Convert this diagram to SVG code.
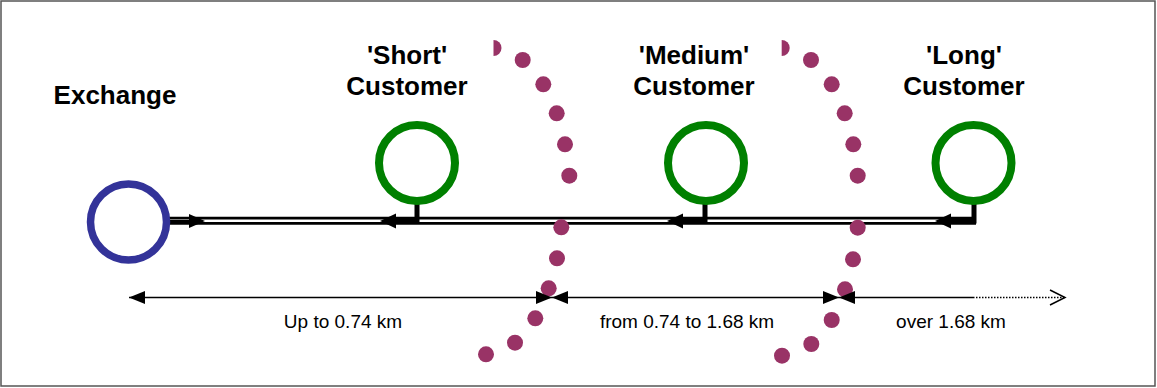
<svg xmlns="http://www.w3.org/2000/svg" width="1157" height="388" viewBox="0 0 1157 388">
<style>
  .hd{font-family:"Liberation Sans",Arial,sans-serif;font-weight:bold;font-size:26px;fill:#000;text-anchor:middle}
  .lb{font-family:"Liberation Sans",Arial,sans-serif;font-size:19px;fill:#000;text-anchor:middle}
  .cust{fill:none;stroke:#008000;stroke-width:8}
  .exch{fill:none;stroke:#333399;stroke-width:7.5}
  .dot{fill:#993366}
  .dim{stroke:#000;stroke-width:1.5;fill:none}
  .stem{stroke:#000;fill:none}
</style>
<defs>
  <marker id="ah" markerUnits="userSpaceOnUse" markerWidth="16" markerHeight="14" refX="16" refY="7" orient="auto-start-reverse">
    <path d="M0,0.5 L16,7 L0,13.5 Z" fill="#000"/>
  </marker>
  <marker id="open" markerUnits="userSpaceOnUse" markerWidth="18" markerHeight="18" refX="16" refY="9" orient="auto">
    <path d="M1,1.5 L16,9 L1,16.5" fill="none" stroke="#000" stroke-width="1.5"/>
  </marker>
</defs>
<rect x="1" y="1" width="1154" height="385" fill="#fff" stroke="#555" stroke-width="1.5"/>

<g id="connectors">
  <line x1="166" y1="220.8" x2="976" y2="220.8" stroke="#000" stroke-width="8"/>
  <line x1="166" y1="220.8" x2="974" y2="220.8" stroke="#fff" stroke-width="2.5"/>
  <line x1="168" y1="221" x2="192" y2="221" stroke="#000" stroke-width="2"/>
  <polygon points="205,221 189,214 189,228" fill="#000"/>
  <polyline class="stem" points="417,202 417,221 392,221" stroke-width="5"/>
  <line x1="417" y1="221" x2="392" y2="221" stroke="#000" stroke-width="2.5"/>
  <polygon points="380,221 396,213.5 396,228.5" fill="#000"/>
  <polyline class="stem" points="705,202 705,221 680,221" stroke-width="5"/>
  <polygon points="667,221 683,213.5 683,228.5" fill="#000"/>
  <polyline class="stem" points="974,202 974,221 948,221" stroke-width="5"/>
  <polygon points="935,221 951,213.5 951,228.5" fill="#000"/>
</g>

<g id="exchange">
  <circle class="exch" cx="128.5" cy="222" r="38"/>
  <text class="hd" x="115" y="104">Exchange</text>
</g>
<g id="short-customer">
  <circle class="cust" cx="417" cy="163" r="38"/>
  <text class="hd" x="407" y="64">'Short'</text>
  <text class="hd" x="407" y="95">Customer</text>
</g>
<g id="medium-customer">
  <circle class="cust" cx="706" cy="163" r="38"/>
  <text class="hd" x="694" y="64">'Medium'</text>
  <text class="hd" x="694" y="95">Customer</text>
</g>
<g id="long-customer">
  <circle class="cust" cx="973.5" cy="163" r="38"/>
  <text class="hd" x="964" y="64">'Long'</text>
  <text class="hd" x="964" y="95">Customer</text>
</g>

<g id="boundary-1">
  <path class="dot" d="M493.5,40 A8,8 0 0 1 493.5,56 Z"/>
  <circle class="dot" cx="522.7" cy="60" r="8"/>
  <circle class="dot" cx="543.3" cy="84.3" r="8"/>
  <circle class="dot" cx="556.7" cy="113.3" r="8"/>
  <circle class="dot" cx="565" cy="144.3" r="8"/>
  <circle class="dot" cx="569.3" cy="175.7" r="8"/>
  <circle class="dot" cx="561.3" cy="227.3" r="8"/>
  <circle class="dot" cx="557" cy="258.3" r="8"/>
  <circle class="dot" cx="548.7" cy="288.3" r="8"/>
  <circle class="dot" cx="535.3" cy="318.3" r="8"/>
  <circle class="dot" cx="515" cy="342.7" r="8"/>
  <circle class="dot" cx="486" cy="354.3" r="8"/>
</g>
<g id="boundary-2">
  <path class="dot" d="M781.7,40 A8,8 0 0 1 781.7,56 Z"/>
  <circle class="dot" cx="811" cy="60" r="8"/>
  <circle class="dot" cx="831.7" cy="84.3" r="8"/>
  <circle class="dot" cx="844.7" cy="113.3" r="8"/>
  <circle class="dot" cx="853.3" cy="144.3" r="8"/>
  <circle class="dot" cx="857.7" cy="175.7" r="8"/>
  <circle class="dot" cx="857.7" cy="227.7" r="8"/>
  <circle class="dot" cx="853" cy="259.3" r="8"/>
  <circle class="dot" cx="845" cy="289.3" r="8"/>
  <circle class="dot" cx="831.7" cy="320" r="8"/>
  <circle class="dot" cx="811.3" cy="344" r="8"/>
  <circle class="dot" cx="782" cy="355.7" r="8"/>
</g>

<g id="dimensions">
  <line class="dim" x1="129" y1="297.5" x2="552" y2="297.5" marker-start="url(#ah)" marker-end="url(#ah)"/>
  <line class="dim" x1="552" y1="297.5" x2="839" y2="297.5" marker-start="url(#ah)" marker-end="url(#ah)"/>
  <line class="dim" x1="839" y1="297.5" x2="973" y2="297.5" marker-start="url(#ah)"/>
  <line class="dim" x1="973" y1="297.5" x2="1065" y2="297.5" stroke-dasharray="1.5,1.5" marker-end="url(#open)"/>
  <text class="lb" x="343" y="328">Up to 0.74 km</text>
  <text class="lb" x="687" y="328">from 0.74 to 1.68 km</text>
  <text class="lb" x="951" y="328">over 1.68 km</text>
</g>
</svg>
